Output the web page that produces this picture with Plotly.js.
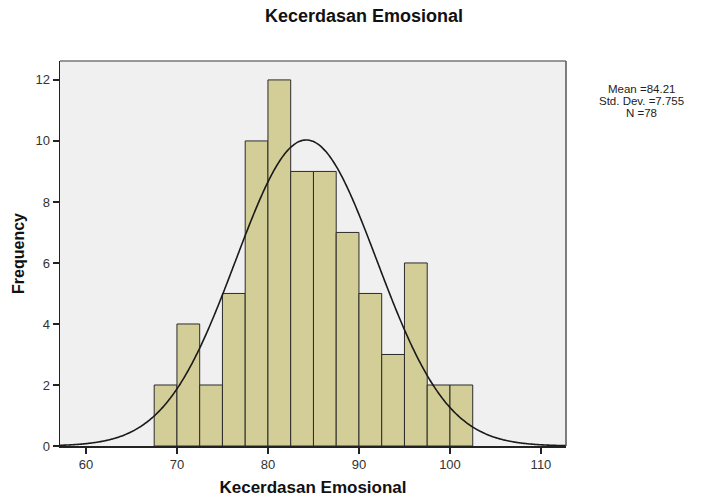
<!DOCTYPE html>
<html>
<head>
<meta charset="utf-8">
<script src="https://cdn.plot.ly/plotly-3.0.1.min.js"></script>
<style>html,body{margin:0;padding:0;background:#fff;}#chart{width:706px;height:497px;}</style>
</head>
<body>
<div id="chart"></div>
<script>
// Histogram bins (lower edges) and frequencies
const binLower = [67.5, 70, 72.5, 75, 77.5, 80, 82.5, 85, 87.5, 90, 92.5, 95, 97.5, 100];
const binWidth = 2.5;
const counts = [2, 4, 2, 5, 10, 12, 9, 9, 7, 5, 3, 6, 2, 2];
const statMean = 84.21;
const statSD = 7.755;
const statN = 78;
const statLines = ['Mean =84.21', 'Std. Dev. =7.755', 'N =78'];
const xTicks = [60, 70, 80, 90, 100, 110];
const yTicks = [0, 2, 4, 6, 8, 10, 12];

const centers = binLower.map(b => b + binWidth / 2);

// fitted normal curve scaled to frequency
const cx = [], cy = [];
for (let i = 0; i <= 400; i++) {
  const x = 57.15 + (112.75 - 57.15) * i / 400;
  const z = (x - statMean) / statSD;
  cx.push(x);
  cy.push(statN * binWidth * Math.exp(-0.5 * z * z) / (statSD * Math.sqrt(2 * Math.PI)));
}

const traces = [
  {
    type: 'bar', x: centers, y: counts, width: binWidth,
    marker: {color: '#d3ce97', line: {color: '#2b2b2b', width: 1}},
    hoverinfo: 'skip', showlegend: false
  },
  {
    type: 'scatter', mode: 'lines', x: cx, y: cy,
    line: {color: '#1a1a1a', width: 1.6, shape: 'spline'},
    hoverinfo: 'skip', showlegend: false
  }
];

const font = 'Liberation Sans, Arial, sans-serif';
const statAnn = statLines.map((t, i) => ({
  text: t, xref: 'paper', yref: 'paper', x: 1, xshift: 75, y: 1, yshift: -28 - 12 * i,
  showarrow: false, xanchor: 'center', yanchor: 'middle',
  font: {size: 11.5, color: '#222', family: font}
}));

const layout = {
  width: 706, height: 497,
  margin: {l: 60, r: 140, t: 61, b: 51},
  paper_bgcolor: '#ffffff',
  plot_bgcolor: '#f0f0f0',
  bargap: 0,
  font: {family: font, color: '#222'},
  xaxis: {
    range: [57.15, 112.75], tickvals: xTicks, ticktext: xTicks.map(String),
    ticks: 'outside', ticklen: 6, tickwidth: 1.5, tickcolor: '#222',
    showline: true, linecolor: '#222', linewidth: 1.5, mirror: false,
    showgrid: false, zeroline: false,
    tickfont: {size: 13, color: '#333', family: font},
    title: {text: 'Kecerdasan Emosional', font: {size: 17, color: '#111', family: font, weight: 'bold'}, standoff: 10}
  },
  yaxis: {
    range: [0, 12.62], tickvals: yTicks, ticktext: yTicks.map(String),
    ticks: 'outside', ticklen: 6, tickwidth: 1.5, tickcolor: '#222',
    showline: true, linecolor: '#222', linewidth: 1.5, mirror: false,
    showgrid: false, zeroline: false,
    tickfont: {size: 13, color: '#333', family: font},
    title: {text: 'Frequency', font: {size: 16, color: '#111', family: font, weight: 'bold'}, standoff: 7}
  },
  shapes: [
    {type: 'line', xref: 'paper', yref: 'paper', x0: 0, x1: 1, y0: 1, y1: 1, line: {color: '#777', width: 1.5}},
    {type: 'line', xref: 'paper', yref: 'paper', x0: 1, x1: 1, y0: 0, y1: 1, line: {color: '#555', width: 1.5}}
  ],
  annotations: [
    {text: '<b>Kecerdasan Emosional</b>', xref: 'paper', yref: 'paper', x: 0.6, y: 1, yshift: 45,
     showarrow: false, xanchor: 'center', yanchor: 'middle', font: {size: 18, color: '#111', family: font}}
  ].concat(statAnn)
};

Plotly.newPlot('chart', traces, layout, {staticPlot: true, displayModeBar: false});
</script>
</body>
</html>
